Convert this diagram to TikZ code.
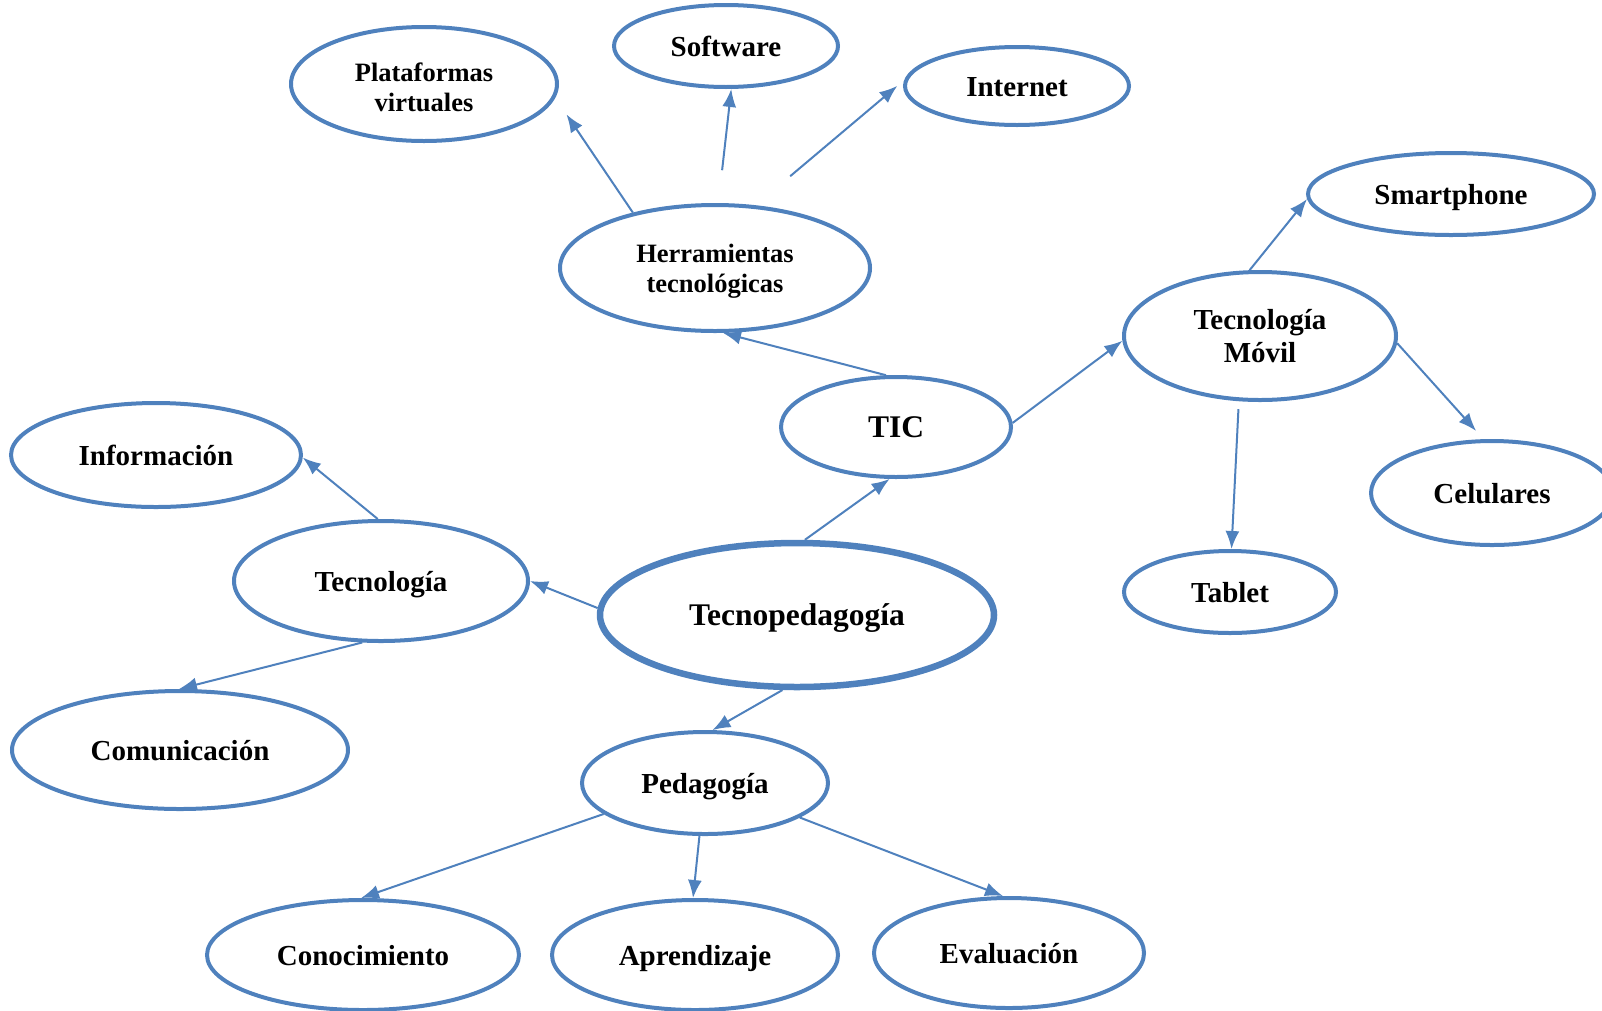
\documentclass[tikz,border=0pt]{standalone}
\usepackage{fontspec}
\setmainfont{Liberation Serif}
\usetikzlibrary{shapes.geometric, arrows.meta}
\definecolor{azul}{RGB}{79,129,189}

\begin{document}
\begin{tikzpicture}[
        x=1pt, y=-1pt,
        every node/.style={ellipse, draw=azul, line width=4pt, inner sep=0pt, align=center,
            text height=21pt, text depth=1pt,
            font=\bfseries\fontsize{29}{33.5}\selectfont},
        dos/.style={text height=, text depth=},
        chico/.style={font=\bfseries\fontsize{26.5}{30.5}\selectfont},
        grande/.style={text height=22.8pt, font=\bfseries\fontsize{31.5}{36}\selectfont},
        flecha/.style={draw=azul, line width=2pt, -{Latex[length=18pt, width=14pt]}}
    ]
        \useasboundingbox (0,0) rectangle (1602,1010);
        \clip (0,0) rectangle (1602,1010);

        % Nodo central
        \node[grande, line width=6.5pt, minimum width=394pt, minimum height=144pt] (tecnop) at (797,615) {Tecnopedagogía};

        % Rama TIC
        \node[grande, minimum width=230pt, minimum height=100pt] (tic) at (896,427) {TIC};
        \node[chico, dos, minimum width=310pt, minimum height=126pt] (herr) at (715,268) {\rule{0pt}{25pt}Herramientas\\tecnológicas};
        \node[chico, dos, minimum width=266pt, minimum height=114pt] (plat) at (424,84) {\rule{0pt}{25pt}Plataformas\\virtuales};
        \node[minimum width=224pt, minimum height=82pt] (soft) at (726,46) {Software};
        \node[minimum width=224pt, minimum height=78pt] (inter) at (1017,86) {Internet};
        \node[dos, minimum width=272pt, minimum height=128pt] (movil) at (1260,336) {Tecnología\\Móvil};
        \node[minimum width=286pt, minimum height=82pt] (smart) at (1451,194) {Smartphone};
        \node[minimum width=242pt, minimum height=104pt] (celu) at (1492,493) {Celulares};
        \node[minimum width=212pt, minimum height=82pt] (tablet) at (1230,592) {Tablet};

        % Rama Tecnología
        \node[minimum width=294pt, minimum height=120pt] (tecno) at (381,581) {Tecnología};
        \node[minimum width=290pt, minimum height=104pt] (info) at (156,455) {Información};
        \node[minimum width=336pt, minimum height=118pt] (comu) at (180,750) {Comunicación};

        % Rama Pedagogía
        \node[minimum width=246pt, minimum height=102pt] (peda) at (705,783) {Pedagogía};
        \node[minimum width=312pt, minimum height=110pt] (cono) at (363,955) {Conocimiento};
        \node[minimum width=286pt, minimum height=110pt] (apre) at (695,955) {Aprendizaje};
        \node[minimum width=270pt, minimum height=110pt] (eval) at (1009,953) {Evaluación};

        % Flechas
        \draw[flecha] (tecnop.84) -- (tic.-97.5);
        \draw[flecha] (tecnop.178.9) -- (tecno.0.8);
        \draw[flecha] (tecnop.-101.3) -- (peda.82.5);
        \draw[flecha] (tic.101.7) -- (herr.-83);
        \draw[flecha] (tic.2.4) -- (movil.182.5);
        \draw[flecha, shorten >=20pt] (herr.146) -- (plat.-6.6);
        \draw[flecha, shorten <=33pt] (herr.87) -- (soft.-83);
        \draw[flecha, shorten <=45pt, shorten >=9pt] (herr.57.4) -- (inter.177.6);
        \draw[flecha] (movil.99.5) -- (smart.182.8);
        \draw[flecha, shorten >=11pt] (movil.-3.7) -- (celu.99.6);
        \draw[flecha, shorten <=8pt] (movil.-108) -- (tablet.88.6);
        \draw[flecha] (tecno.93.7) -- (info.-1.6);
        \draw[flecha] (tecno.-107.3) -- (comu.91);
        \draw[flecha] (peda.197.1) -- (cono.92);
        \draw[flecha] (peda.-96.5) -- (apre.92);
        \draw[flecha] (peda.-20.8) -- (eval.96.8);
    \end{tikzpicture}
\end{document}
